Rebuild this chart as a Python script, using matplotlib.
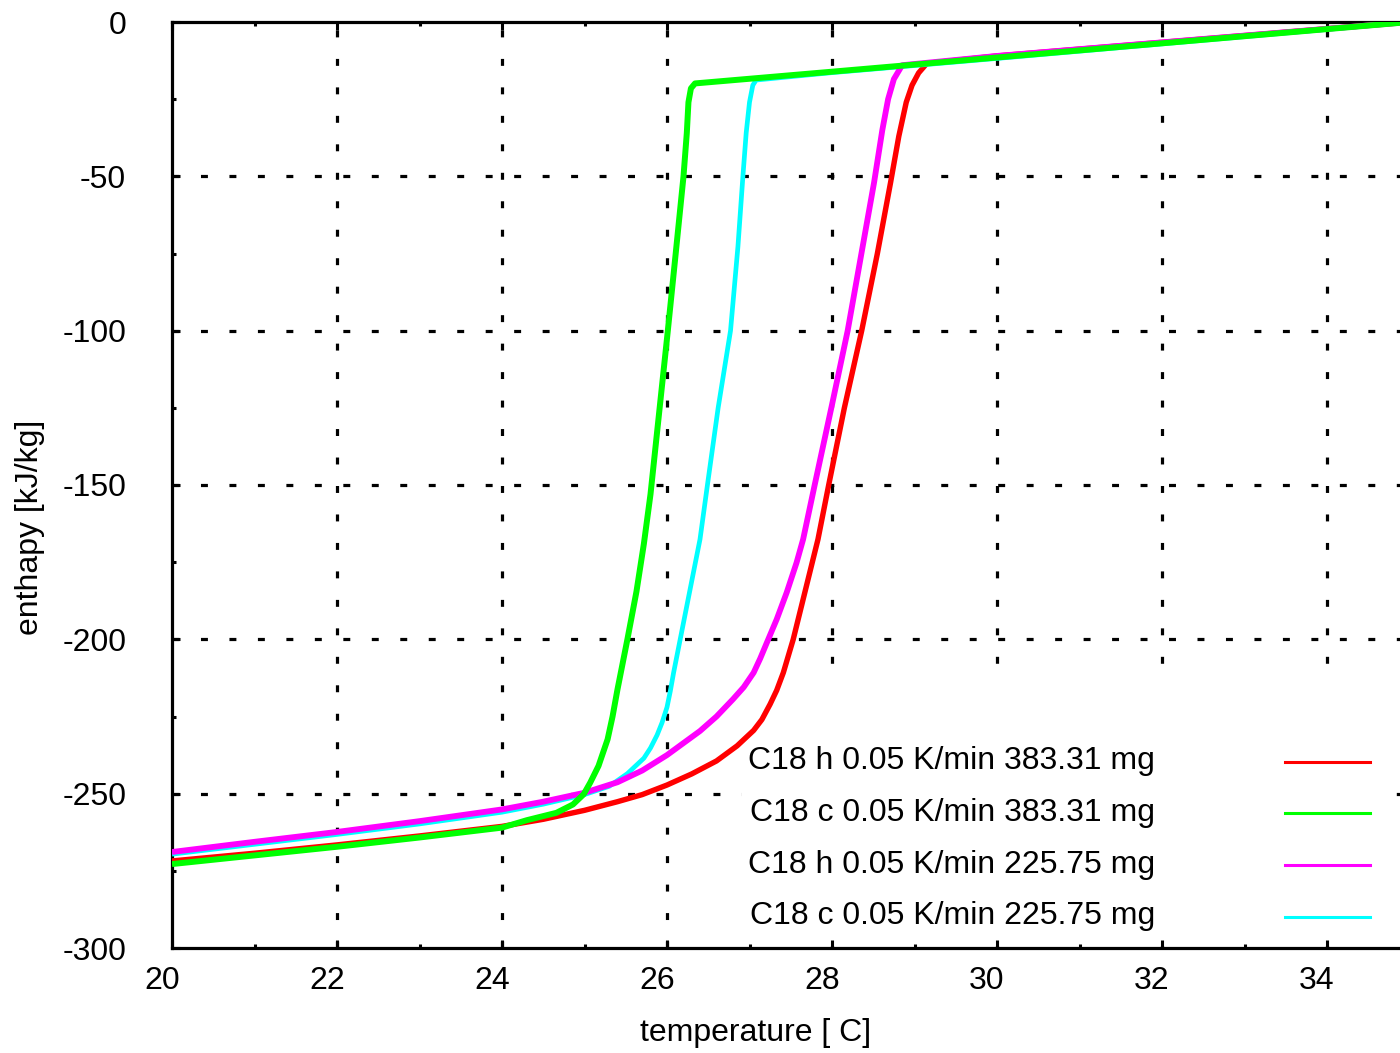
import matplotlib
matplotlib.use("Agg")
import matplotlib.pyplot as plt
import matplotlib.transforms as mtransforms
from matplotlib.patches import Rectangle
from matplotlib.ticker import MultipleLocator

plt.rcParams["font.family"] = ["Liberation Sans", "DejaVu Sans"]
plt.rcParams["lines.scale_dashes"] = False
plt.rcParams["axes.unicode_minus"] = False

# ---- measured enthalpy curves (temperature in C, enthalpy in kJ/kg) ----
h383_t = [20.0, 21.0, 22.0, 23.0, 24.0, 24.5, 25.0, 25.4, 25.7, 26.0, 26.3,
          26.6, 26.85, 27.05, 27.15, 27.25, 27.33, 27.41, 27.53, 27.63, 27.73,
          27.83, 27.96, 28.15, 28.36, 28.55, 28.71, 28.81, 28.90, 28.97, 29.05,
          29.15, 30.0, 31.0, 32.0, 33.0, 34.0, 35.0]
h383_h = [-271.8, -269.3, -266.6, -263.7, -260.6, -258.3, -255.4, -252.6,
          -250.3, -247.2, -243.6, -239.4, -234.5, -229.5, -226.0, -221.0,
          -216.5, -210.8, -200.0, -189.2, -178.4, -167.6, -150.0, -125.0,
          -100.0, -75.0, -52.0, -37.0, -26.0, -20.5, -16.5, -13.4, -11.0,
          -8.8, -6.6, -4.4, -2.2, 0.0]

c383_t = [20.0, 21.0, 22.0, 23.0, 24.0, 24.3, 24.66, 24.86, 24.99, 25.07,
          25.17, 25.28, 25.34, 25.40, 25.52, 25.63, 25.72, 25.80, 26.01, 26.11,
          26.20, 26.24, 26.26, 26.29, 26.34, 28.0, 30.0, 32.0, 34.0, 35.0]
c383_h = [-272.8, -270.0, -267.2, -264.2, -261.0, -258.6, -256.2, -253.5,
          -250.2, -246.4, -241.0, -232.4, -225.0, -216.2, -200.0, -184.5,
          -169.0, -153.0, -100.0, -73.8, -50.0, -36.0, -26.0, -21.5, -19.9,
          -16.1, -11.5, -6.9, -2.3, 0.0]

h225_t = [20.0, 21.0, 22.0, 23.0, 24.0, 24.5, 25.0, 25.4, 25.7, 26.0, 26.4,
          26.6, 26.8, 26.93, 27.05, 27.13, 27.21, 27.33, 27.45, 27.57, 27.65,
          27.79, 28.0, 28.19, 28.35, 28.51, 28.61, 28.68, 28.75, 28.85, 30.0,
          32.0, 34.0, 35.0]
h225_h = [-268.9, -265.6, -262.4, -258.9, -255.1, -252.6, -249.7, -246.3,
          -242.5, -237.5, -229.7, -225.0, -219.4, -215.5, -210.8, -206.2,
          -201.1, -193.5, -184.9, -175.2, -167.6, -150.0, -124.0, -100.0,
          -76.0, -52.0, -35.0, -25.0, -18.5, -14.0, -11.0, -6.6, -2.2, 0.0]

c225_t = [20.0, 21.0, 22.0, 23.0, 24.0, 24.5, 25.0, 25.3, 25.52, 25.72,
          25.80, 25.88, 25.94, 26.0, 26.04, 26.08, 26.16, 26.24, 26.32, 26.40,
          26.49, 26.62, 26.77, 26.86, 26.92, 26.96, 27.0, 27.04, 27.08, 28.0,
          30.0, 32.0, 34.0, 35.0]
c225_h = [-269.6, -266.4, -263.2, -259.8, -256.0, -253.4, -250.3, -247.6,
          -243.5, -238.5, -235.2, -231.0, -227.0, -222.0, -216.8, -210.8,
          -200.0, -189.2, -178.4, -167.6, -150.0, -125.0, -100.0, -72.7,
          -50.0, -35.9, -26.0, -20.5, -18.8, -16.4, -11.8, -7.1, -2.4, 0.0]

labels = ["C18 h 0.05 K/min 383.31 mg", "C18 c 0.05 K/min 383.31 mg",
          "C18 h 0.05 K/min 225.75 mg", "C18 c 0.05 K/min 225.75 mg"]
colors = ["#ff0000", "#00ff00", "#ff00ff", "#00ffff"]

x_ticks = [20, 22, 24, 26, 28, 30, 32, 34]
y_ticks = [0, -50, -100, -150, -200, -250, -300]

FS = 23
W, H = 1400, 1053
fig = plt.figure(figsize=(W / 100, H / 100), dpi=100)
# plot frame: x 20..35 spans 172..1409.5 px, y -300..0 spans 948..22 px
ax = fig.add_axes([172 / W, (H - 948) / H, 1237.5 / W, 926 / H])
ax.set_xlim(20, 35)
ax.set_ylim(-300, 0)

series = [(h383_t, h383_h, 3.9, 3), (c383_t, c383_h, 4.3, 6),
          (h225_t, h225_h, 4.2, 5), (c225_t, c225_h, 3.4, 4)]
for (t, h, lw, z), col in zip(series, colors):
    ax.plot(t, h, color=col, lw=lw, zorder=z, solid_capstyle="butt",
            solid_joinstyle="round")

# dotted grid at the major ticks
grid_style = dict(color="black", lw=2.3, linestyle=(0, (5, 15.5)), zorder=0.6)
for xv in x_ticks[1:]:
    ax.axvline(xv, **grid_style)
for yv in y_ticks[1:-1]:
    ax.axhline(yv, **grid_style)

# the key area is blanked over the grid
ax.add_patch(Rectangle((742 / W, (H - 946) / H), 650 / W, 261 / H,
                       transform=fig.transFigure, facecolor="white",
                       edgecolor="none", zorder=1))

ax.set_xticks(x_ticks)
ax.set_yticks(y_ticks)
ax.xaxis.set_minor_locator(MultipleLocator(1))
ax.yaxis.set_minor_locator(MultipleLocator(25))
ax.tick_params(which="both", direction="in", top=True, right=True,
               width=2.2, colors="black", labelsize=FS)
ax.tick_params(which="major", length=6.0)
ax.tick_params(which="minor", length=3.0)
ax.tick_params(axis="x", pad=13)
ax.tick_params(axis="y", pad=33)
for sp in ax.spines.values():
    sp.set_linewidth(2.3)

shift = mtransforms.ScaledTranslation(-10 / 100, 0, fig.dpi_scale_trans)
for lab in ax.get_xticklabels():
    lab.set_transform(lab.get_transform() + shift)

fig.text(756 / W, 1 - 1033 / H, "temperature [ C]", fontsize=FS,
         ha="center", va="center")
fig.text(30 / W, 1 - 527 / H, "enthapy [kJ/kg]", fontsize=FS,
         ha="center", va="center", rotation=90)

# key: right-justified text with a line sample to its right
row_y = [761.7, 813.3, 865.0, 916.7]
for lab, col, ry in zip(labels, colors, row_y):
    fig.text(1155 / W, 1 - (ry + 7.6) / H, lab, fontsize=FS,
             ha="right", va="baseline")
    fig.add_artist(plt.Line2D([1285 / W, 1370 / W], [1 - ry / H, 1 - ry / H],
                              color=col, lw=2.2, transform=fig.transFigure))

fig.savefig("out.png", dpi=100)
